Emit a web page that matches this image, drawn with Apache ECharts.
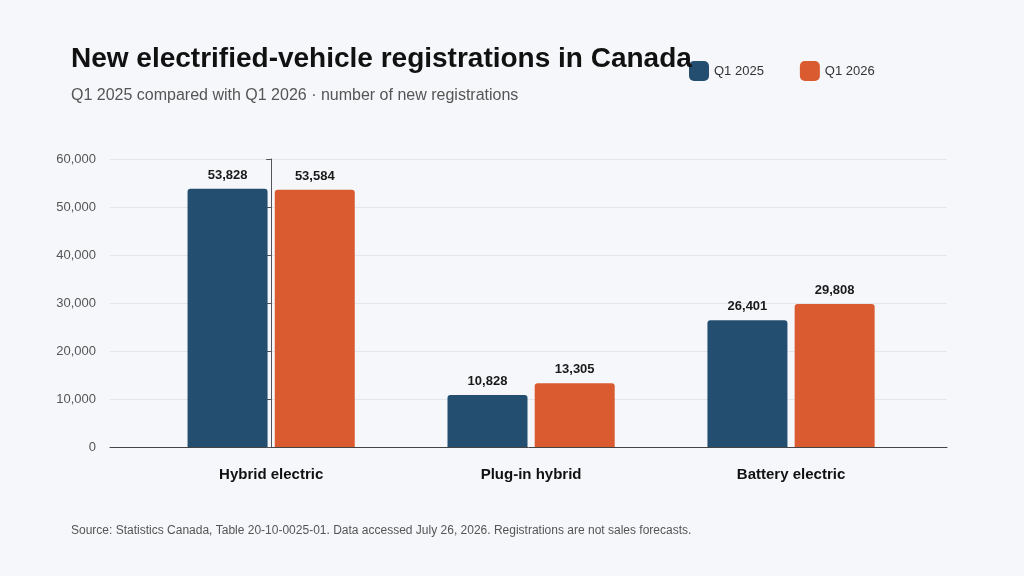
<!DOCTYPE html>
<html>
<head>
<meta charset="utf-8">
<script src="https://cdn.jsdelivr.net/npm/echarts@6/dist/echarts.min.js"></script>
<style>
html,body{margin:0;padding:0;background:#f5f7fa;}
#chart{width:1024px;height:576px;}
</style>
</head>
<body>
<div id="chart"></div>
<script>
var categories = ['Hybrid electric', 'Plug-in hybrid', 'Battery electric'];
var q1_2025 = [53828, 10828, 26401];
var q1_2026 = [53584, 13305, 29808];

var chart = echarts.init(document.getElementById('chart'));
var font = 'Liberation Sans, Arial, sans-serif';
function lbl() {
  return {
    show: true, position: 'top', distance: 7,
    color: '#1a1a1a', fontWeight: 'bold', fontSize: 13, fontFamily: font,
    formatter: function (p) { return p.value[1].toLocaleString('en-US'); }
  };
}
function pts(arr) { return arr.map(function (v, i) { return [i, v]; }); }
chart.setOption({
  backgroundColor: '#f5f7fa',
  animation: false,
  title: [
    {
      text: 'New electrified-vehicle registrations in Canada',
      left: 66, top: 40,
      textStyle: {fontSize: 28, fontWeight: 'bold', color: '#111', fontFamily: font}
    },
    {
      text: 'Q1 2025 compared with Q1 2026 · number of new registrations',
      left: 66, top: 83,
      textStyle: {fontSize: 16, fontWeight: 'normal', color: '#555', fontFamily: font}
    },
    {
      text: 'Source: Statistics Canada, Table 20-10-0025-01. Data accessed July 26, 2026. Registrations are not sales forecasts.',
      left: 66, top: 520,
      textStyle: {fontSize: 12, fontWeight: 'normal', color: '#555', fontFamily: font}
    }
  ],
  legend: {
    left: 684, top: 56, itemWidth: 20, itemHeight: 20, itemGap: 36,
    icon: 'roundRect',
    textStyle: {fontSize: 13, color: '#333', fontFamily: font},
    data: ['Q1 2025', 'Q1 2026']
  },
  grid: {left: 110, right: 77, top: 159, bottom: 129, containLabel: false},
  xAxis: {
    type: 'value', min: -0.62, max: 2.6,
    axisLine: {show: true, onZero: false, lineStyle: {color: '#444'}},
    axisTick: {show: false},
    splitLine: {show: false},
    axisLabel: {
      customValues: [0, 1, 2],
      margin: 20, fontSize: 15, fontWeight: 'bold', color: '#111', fontFamily: font,
      formatter: function (v) { return categories[Math.round(v)] || ''; }
    }
  },
  yAxis: {
    type: 'value', min: 0, max: 60000, interval: 10000,
    axisLabel: {fontSize: 13, color: '#555', fontFamily: font, margin: 14,
      formatter: function (v) { return v.toLocaleString('en-US'); }},
    splitLine: {lineStyle: {color: '#e3e6ea'}}
  },
  series: [
    {name: 'Q1 2025', type: 'bar', data: pts(q1_2025), barWidth: 80, barGap: '9%',
      itemStyle: {color: '#234e70', borderRadius: [3, 3, 0, 0]}, label: lbl()},
    {name: 'Q1 2026', type: 'bar', data: pts(q1_2026), barWidth: 80,
      itemStyle: {color: '#d95b2f', borderRadius: [3, 3, 0, 0]}, label: lbl()}
  ]
});
</script>
</body>
</html>
